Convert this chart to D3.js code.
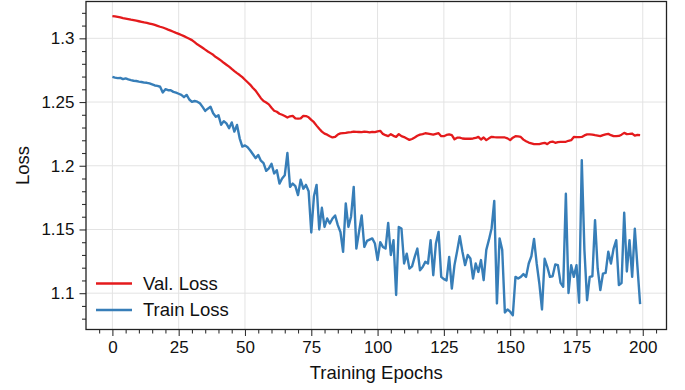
<!DOCTYPE html>
<html>
<head>
<meta charset="utf-8">
<script src="https://cdn.jsdelivr.net/npm/d3@7"></script>
<style>
  body { margin: 0; background: #fff; }
  svg text { font-family: "Liberation Sans", Arial, sans-serif; fill: #111; }
</style>
</head>
<body>
<svg id="chart"></svg>
<script>
// loss per epoch
const valLoss = [
  1.3175,1.3172,1.3168,1.3164,1.3159,1.3155,1.3151,1.3146,1.3142,1.3138,
  1.3134,1.3130,1.3125,1.3121,1.3116,1.3111,1.3105,1.3098,1.3091,1.3085,
  1.3077,1.3068,1.3060,1.3052,1.3043,1.3035,1.3026,1.3017,1.3007,1.2997,
  1.2986,1.2970,1.2953,1.2940,1.2926,1.2911,1.2897,1.2884,1.2871,1.2853,
  1.2840,1.2825,1.2808,1.2793,1.2778,1.2760,1.2743,1.2727,1.2712,1.2695,
  1.2675,1.2655,1.2635,1.2610,1.2590,1.2560,1.2530,1.2508,1.2496,1.2482,
  1.2455,1.2432,1.2424,1.2408,1.2400,1.2390,1.2378,1.2388,1.2392,1.2372,
  1.2370,1.2372,1.2392,1.2390,1.2380,1.2360,1.2342,1.2315,1.2290,1.2268,
  1.2252,1.2244,1.2232,1.2222,1.2226,1.2245,1.2254,1.2256,1.2258,1.2262,
  1.2264,1.2268,1.2266,1.2265,1.2264,1.2268,1.2266,1.2262,1.2266,1.2264,
  1.2270,1.2274,1.2250,1.2240,1.2232,1.2248,1.2235,1.2227,1.2248,1.2232,
  1.2225,1.2214,1.2203,1.2210,1.2222,1.2235,1.2244,1.2248,1.2255,1.2252,
  1.2248,1.2244,1.2250,1.2256,1.2232,1.2232,1.2242,1.2246,1.2240,1.2208,
  1.2220,1.2220,1.2214,1.2212,1.2212,1.2212,1.2214,1.2218,1.2227,1.2206,
  1.2222,1.2201,1.2215,1.2227,1.2224,1.2222,1.2222,1.2222,1.2222,1.2215,
  1.2201,1.2220,1.2232,1.2230,1.2226,1.2205,1.2192,1.2182,1.2176,1.2170,
  1.2170,1.2170,1.2175,1.2180,1.2170,1.2185,1.2190,1.2180,1.2186,1.2188,
  1.2188,1.2188,1.2196,1.2201,1.2226,1.2225,1.2224,1.2226,1.2238,1.2246,
  1.2246,1.2245,1.2240,1.2236,1.2232,1.2240,1.2246,1.2250,1.2240,1.2232,
  1.2232,1.2234,1.2244,1.2258,1.2248,1.2250,1.2253,1.2236,1.2242,1.2240
];
const trainLoss = [
  1.2698,1.2692,1.2688,1.2690,1.2680,1.2686,1.2678,1.2672,1.2667,1.2665,
  1.2660,1.2657,1.2652,1.2651,1.2646,1.2638,1.2630,1.2627,1.2620,1.2575,
  1.2601,1.2593,1.2592,1.2580,1.2574,1.2565,1.2556,1.2538,1.2556,1.2520,
  1.2502,1.2508,1.2503,1.2490,1.2462,1.2430,1.2448,1.2463,1.2412,1.2385,
  1.2397,1.2322,1.2350,1.2332,1.2295,1.2340,1.2268,1.2320,1.2215,1.2150,
  1.2160,1.2145,1.2120,1.2090,1.2060,1.2085,1.2040,1.2020,1.1960,1.1980,
  1.2015,1.1940,1.1965,1.1860,1.1900,1.1925,1.2100,1.1834,1.1860,1.1840,
  1.1770,1.1890,1.1820,1.1850,1.1800,1.1476,1.1760,1.1850,1.1500,1.1670,
  1.1520,1.1586,1.1547,1.1586,1.1610,1.1534,1.1480,1.1324,1.1704,1.1520,
  1.1600,1.1834,1.1350,1.1480,1.1610,1.1363,1.1410,1.1420,1.1430,1.1390,
  1.1260,1.1400,1.1363,1.1350,1.1552,1.1300,1.1416,1.0986,1.1520,1.1508,
  1.1233,1.1310,1.1193,1.1210,1.1285,1.1350,1.1180,1.1206,1.1246,1.1233,
  1.1416,1.1141,1.1390,1.1481,1.1128,1.1110,1.1100,1.1285,1.1036,1.1220,
  1.1330,1.1447,1.1325,1.1220,1.1300,1.1272,1.1115,1.1233,1.1167,1.1260,
  1.1102,1.1340,1.1420,1.1510,1.1724,1.0920,1.1430,1.1340,1.0848,1.0872,
  1.0855,1.0827,1.1128,1.1115,1.1128,1.1150,1.1128,1.1233,1.1290,1.1426,
  1.1233,1.1076,1.0872,1.1270,1.1207,1.1128,1.1133,1.1225,1.1220,1.1081,
  1.1050,1.1780,1.1002,1.1220,1.1128,1.1220,1.0925,1.2044,1.1338,1.0945,
  1.1128,1.1133,1.1573,1.1194,1.1024,1.1154,1.1160,1.1325,1.1233,1.1350,
  1.1416,1.1063,1.1080,1.1631,1.1170,1.1416,1.1128,1.1506,1.1206,1.0914
];
const xTicks = [0, 25, 50, 75, 100, 125, 150, 175, 200];
const yTicks = [1.1, 1.15, 1.2, 1.25, 1.3];
const seriesNames = ["Val. Loss", "Train Loss"];
const seriesColors = ["#e41a1c", "#377eb8"];

const width = 685;
const height = 390;
const margin = { top: 1.5, right: 18.5, bottom: 60.5, left: 86 };

const svg = d3.select("#chart").attr("width", width).attr("height", height);

const xScale = d3.scaleLinear()
  .domain([-9.95, 208.95])
  .range([margin.left, width - margin.right]);

const yScale = d3.scaleLinear()
  .domain([1.0715, 1.3289])
  .range([height - margin.bottom, margin.top]);

// minor ticks every 5 epochs / 0.01 loss
const xMinor = d3.range(-5, 206, 5).filter(d => d % 25 !== 0);
const yMinor = d3.range(108, 133).map(d => d / 100).filter(d => Math.round(d * 100) % 5 !== 0);

// grid
svg.append("g")
  .selectAll("line")
  .data(xTicks)
  .join("line")
  .attr("x1", d => xScale(d)).attr("x2", d => xScale(d))
  .attr("y1", margin.top).attr("y2", height - margin.bottom)
  .attr("stroke", "#e3e3e3").attr("stroke-width", 1);

svg.append("g")
  .selectAll("line")
  .data(yTicks)
  .join("line")
  .attr("x1", margin.left).attr("x2", width - margin.right)
  .attr("y1", d => yScale(d)).attr("y2", d => yScale(d))
  .attr("stroke", "#e3e3e3").attr("stroke-width", 1);

// axes
const xAxis = d3.axisBottom(xScale).tickValues(xTicks).tickSize(6.5).tickSizeOuter(0).tickPadding(5);
const xAxisMinor = d3.axisBottom(xScale).tickValues(xMinor).tickSize(4).tickSizeOuter(0).tickFormat("");
const yAxis = d3.axisLeft(yScale).tickValues(yTicks).tickSize(6.5).tickSizeOuter(0).tickPadding(5)
  .tickFormat(d => String(d));
const yAxisMinor = d3.axisLeft(yScale).tickValues(yMinor).tickSize(4).tickSizeOuter(0).tickFormat("");

function styleAxis(g) {
  g.select(".domain").remove();
  g.selectAll(".tick line").attr("stroke", "#333").attr("stroke-width", 1.1);
  g.selectAll(".tick text")
    .style("font-family", "'Liberation Sans', Arial, sans-serif")
    .style("font-size", "17px")
    .attr("fill", "#111");
}

svg.append("g")
  .attr("transform", `translate(0, ${height - margin.bottom})`)
  .call(xAxis).call(styleAxis);
svg.append("g")
  .attr("transform", `translate(0, ${height - margin.bottom})`)
  .call(xAxisMinor).call(styleAxis);
svg.append("g")
  .attr("transform", `translate(${margin.left}, 0)`)
  .call(yAxis).call(styleAxis);
svg.append("g")
  .attr("transform", `translate(${margin.left}, 0)`)
  .call(yAxisMinor).call(styleAxis);

// lines
const line = d3.line()
  .x((d, i) => xScale(i))
  .y(d => yScale(d));

[valLoss, trainLoss].forEach((series, k) => {
  svg.append("path")
    .datum(series)
    .attr("fill", "none")
    .attr("stroke", seriesColors[k])
    .attr("stroke-width", k === 0 ? 2.3 : 2.4)
    .attr("stroke-linejoin", "round")
    .attr("d", line);
});

// frame
svg.append("rect")
  .attr("x", margin.left)
  .attr("y", margin.top)
  .attr("width", width - margin.left - margin.right)
  .attr("height", height - margin.top - margin.bottom)
  .attr("fill", "none")
  .attr("stroke", "#222")
  .attr("stroke-width", 1.3);

// legend
const legend = svg.append("g").attr("transform", "translate(96, 283.5)");
seriesNames.forEach((name, k) => {
  const row = legend.append("g").attr("transform", `translate(0, ${k * 26.5})`);
  row.append("line")
    .attr("x1", 0).attr("x2", 36)
    .attr("stroke", seriesColors[k])
    .attr("stroke-width", 2.6);
  row.append("text")
    .attr("x", 47)
    .attr("dy", "0.35em")
    .style("font-size", "18.5px")
    .text(name);
});

// axis titles
svg.append("text")
  .attr("x", (margin.left + width - margin.right) / 2)
  .attr("y", 379)
  .attr("text-anchor", "middle")
  .style("font-size", "18.5px")
  .text("Training Epochs");

svg.append("text")
  .attr("transform", "rotate(-90)")
  .attr("x", -(margin.top + height - margin.bottom) / 2)
  .attr("y", 28.5)
  .attr("text-anchor", "middle")
  .style("font-size", "18.5px")
  .text("Loss");
</script>
</body>
</html>
